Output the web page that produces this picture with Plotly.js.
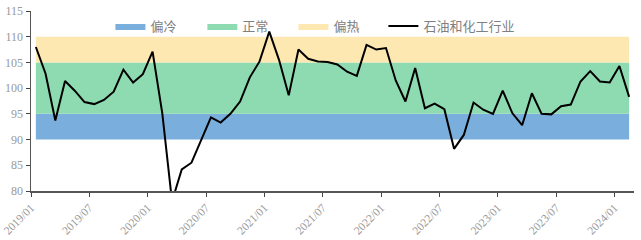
<!DOCTYPE html>
<html>
<head>
<meta charset="utf-8">
<script src="https://cdn.plot.ly/plotly-3.0.1.min.js"></script>
<style>
  html, body { margin: 0; padding: 0; background: #fff; }
  #chart { width: 641px; height: 240px; }
</style>
</head>
<body>
<div id="chart"></div>
<script>
// Monthly sentiment index, petroleum & chemical industry, 2019/01 – 2024/02
const months = [
  '2019/01','2019/02','2019/03','2019/04','2019/05','2019/06','2019/07','2019/08','2019/09','2019/10','2019/11','2019/12',
  '2020/01','2020/02','2020/03','2020/04','2020/05','2020/06','2020/07','2020/08','2020/09','2020/10','2020/11','2020/12',
  '2021/01','2021/02','2021/03','2021/04','2021/05','2021/06','2021/07','2021/08','2021/09','2021/10','2021/11','2021/12',
  '2022/01','2022/02','2022/03','2022/04','2022/05','2022/06','2022/07','2022/08','2022/09','2022/10','2022/11','2022/12',
  '2023/01','2023/02','2023/03','2023/04','2023/05','2023/06','2023/07','2023/08','2023/09','2023/10','2023/11','2023/12',
  '2024/01','2024/02'
];
const industryIndex = [
  108.0, 102.8, 93.7, 101.4, 99.5, 97.3, 96.9, 97.7, 99.3, 103.6, 101.1, 102.7,
  107.1, 95.1, 78.0, 84.2, 85.5, 89.9, 94.3, 93.3, 95.0, 97.4, 102.1, 105.2,
  111.0, 105.5, 98.6, 107.5, 105.7, 105.2, 105.1, 104.6, 103.2, 102.4, 108.4, 107.5,
  107.8, 101.5, 97.4, 103.9, 96.1, 97.0, 95.9, 88.2, 90.9, 97.2, 95.8, 95.0,
  99.5, 95.1, 92.8, 99.0, 95.0, 94.9, 96.5, 96.8, 101.3, 103.3, 101.3, 101.1,
  104.3, 98.3
];
const tickLabels = ['2019/01','2019/07','2020/01','2020/07','2021/01','2021/07','2022/01','2022/07','2023/01','2023/07','2024/01'];

// Zone bands
const zoneNames = ['偏冷', '正常', '偏热'];
const zoneLow = [90, 95, 105];
const zoneHigh = [95, 105, 110];
const zoneColors = ['#7aaedd', '#8edbb1', '#fde8b2'];
const seriesName = '石油和化工行业';

// Each month sits in the middle of its slot; ticks mark slot edges
const xPos = months.map((m, i) => i + 0.5);
const xFirst = xPos[0], xLast = xPos[xPos.length - 1];
const tickVals = tickLabels.map(t => months.indexOf(t));

// One legend box per entry so the entries can be spread evenly across the top
const legendIds = ['legend', 'legend2', 'legend3', 'legend4'];
const legendX = [0.1317, 0.2842, 0.4352, 0.5844];

const traces = zoneNames.map((name, k) => ({
  type: 'scatter',
  mode: 'lines',
  name: name,
  legend: legendIds[k],
  x: [xFirst, xLast, xLast, xFirst, xFirst],
  y: [zoneLow[k], zoneLow[k], zoneHigh[k], zoneHigh[k], zoneLow[k]],
  fill: 'toself',
  fillcolor: zoneColors[k],
  line: { width: 0, color: zoneColors[k] },
  hoverinfo: 'skip'
}));

traces.push({
  type: 'scatter',
  mode: 'lines',
  name: seriesName,
  legend: legendIds[3],
  x: xPos,
  y: industryIndex,
  line: { color: '#000', width: 2 }
});

const serif = '"Liberation Serif", "Noto Sans CJK SC", serif';

const layout = {
  width: 641,
  height: 240,
  margin: { l: 31, r: 7, t: 11, b: 49 },
  paper_bgcolor: '#fff',
  plot_bgcolor: '#fff',
  showlegend: true,
  xaxis: {
    range: [0, months.length],
    tickmode: 'array',
    tickvals: tickVals,
    ticktext: tickLabels,
    tickangle: -45,
    ticks: 'outside',
    ticklen: 4,
    tickcolor: '#444',
    showline: true,
    linecolor: '#555',
    linewidth: 1.5,
    showgrid: false,
    zeroline: false,
    tickfont: { family: serif, size: 11.5, color: '#999' }
  },
  yaxis: {
    range: [80, 115],
    dtick: 5,
    ticks: 'outside',
    ticklen: 4,
    tickcolor: '#444',
    showline: true,
    linecolor: '#555',
    linewidth: 1.5,
    showgrid: false,
    zeroline: false,
    tickfont: { family: serif, size: 12, color: '#999' }
  }
};

legendIds.forEach((id, k) => {
  layout[id] = {
    orientation: 'h',
    x: legendX[k], y: 1.0,
    xanchor: 'left', yanchor: 'top',
    bgcolor: 'rgba(0,0,0,0)',
    font: { family: serif, size: 13, color: '#808080' },
    itemwidth: 30
  };
});

Plotly.newPlot('chart', traces, layout, { displayModeBar: false, staticPlot: true });
</script>
</body>
</html>
